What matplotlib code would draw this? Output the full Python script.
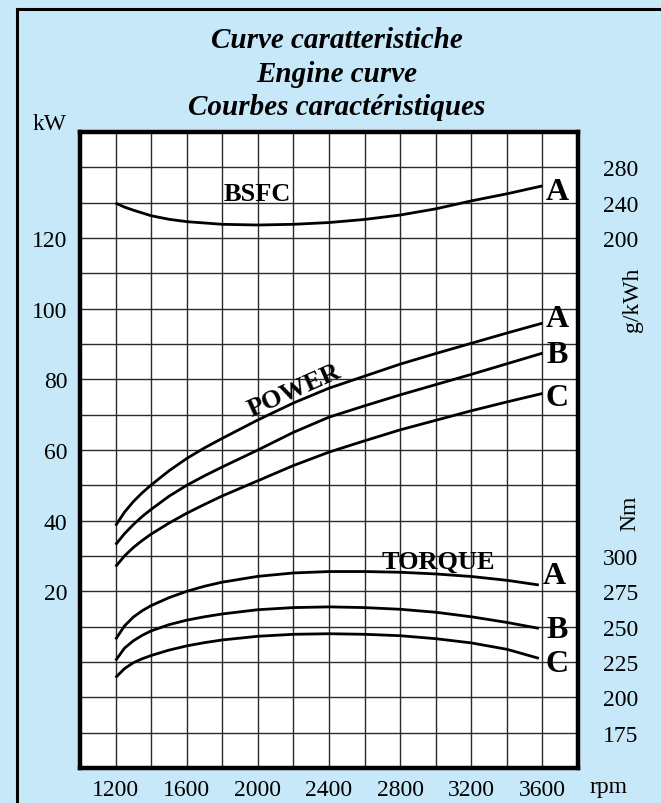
import matplotlib
matplotlib.use('Agg')
import matplotlib.pyplot as plt
from matplotlib.lines import Line2D
import numpy as np

# rpm points
rpm_power = [1200, 1250, 1300, 1350, 1400, 1500, 1600, 1700, 1800, 2000, 2200, 2400,
             2600, 2800, 3000, 3200, 3400, 3600]
power_a = [38.6, 42.4, 45.4, 47.9, 50.1, 54.1, 57.6, 60.6, 63.3, 68.5, 73.3, 77.5,
           80.9, 84.3, 87.3, 90.2, 93.1, 95.9]
power_b = [33.2, 36.3, 38.9, 41.2, 43.2, 46.9, 50.0, 52.7, 55.2, 60.0, 65.0, 69.3,
           72.5, 75.6, 78.5, 81.4, 84.4, 87.4]
power_c = [27.0, 30.0, 32.4, 34.4, 36.2, 39.3, 42.1, 44.6, 47.0, 51.3, 55.6, 59.4,
           62.6, 65.7, 68.4, 71.1, 73.6, 76.0]

rpm_torque = [1200, 1250, 1300, 1350, 1400, 1500, 1600, 1700, 1800, 2000, 2200, 2400,
              2600, 2800, 3000, 3200, 3400, 3580]
torque_a = [241.0, 250.5, 256.8, 261.3, 264.9, 270.5, 275.0, 278.6, 281.5, 285.6, 288.0, 289.0,
            289.0, 288.5, 287.3, 285.5, 282.8, 279.5]
torque_b = [226.0, 234.8, 240.0, 243.9, 247.0, 251.4, 254.6, 257.0, 259.0, 262.0, 263.5, 264.0,
            263.5, 262.3, 260.2, 257.0, 253.0, 248.8]
torque_c = [214.0, 220.3, 224.5, 227.3, 229.6, 233.4, 236.4, 238.7, 240.6, 243.2, 244.6, 245.0,
            244.6, 243.6, 241.5, 238.5, 234.0, 227.6]

rpm_bsfc = [1200, 1250, 1300, 1400, 1500, 1600, 1800, 2000, 2200, 2400, 2600, 2800,
            3000, 3200, 3400, 3600]
bsfc_a = [239.6, 235.0, 231.5, 225.2, 221.2, 218.5, 215.5, 214.7, 215.5, 217.5, 221.0, 226.0,
          233.0, 242.0, 250.0, 259.0]

rpm_ticks = [1200, 1600, 2000, 2400, 2800, 3200, 3600]
kw_ticks = [20, 40, 60, 80, 100, 120]
gkwh_ticks = [200, 240, 280]
nm_ticks = [175, 200, 225, 250, 275, 300]

BG = '#c6e8f8'
W, H = 661, 804

plt.rcParams['font.family'] = ['Liberation Serif', 'DejaVu Serif']

fig = plt.figure(figsize=(W / 100, H / 100), dpi=100)
fig.patch.set_facecolor(BG)

# outer frame: only left and top edges are visible in the picture
fig.add_artist(Line2D([17 / W, 17 / W], [0, 1 - 10 / H], color='black', lw=2.2,
                      transform=fig.transFigure))
fig.add_artist(Line2D([17 / W, 1], [1 - 10 / H, 1 - 10 / H], color='black', lw=2.2,
                      transform=fig.transFigure))

left, right, top, bottom = 80, 578, 133, 769
ax = fig.add_axes([left / W, 1 - bottom / H, (right - left) / W, (bottom - top) / H])
ax.set_facecolor('white')
ax.set_xlim(1000, 3800)
ax.set_ylim(-30, 150)

ax.set_xticks(rpm_ticks)
ax.set_xticks(np.arange(1000, 3801, 200), minor=True)
ax.set_yticks(kw_ticks)
ax.set_yticks(np.arange(-30, 151, 10), minor=True)
ax.grid(which='both', color='#2a2a2a', lw=1.0)
ax.set_axisbelow(True)
ax.tick_params(which='both', length=0, labelsize=17)
ax.tick_params(axis='y', pad=9)
ax.tick_params(axis='x', pad=8)
for sp in ax.spines.values():
    sp.set_linewidth(3.2)
    sp.set_zorder(5)

line_kw = dict(color='black', lw=2.0, solid_capstyle='butt', solid_joinstyle='round')

ax.plot(rpm_power, power_a, **line_kw)
ax.plot(rpm_power, power_b, **line_kw)
ax.plot(rpm_power, power_c, **line_kw)

ax_g = ax.twinx()
ax_g.set_ylim(-400, 320)
ax_g.set_yticks(gkwh_ticks)
ax_g.plot(rpm_bsfc, bsfc_a, **line_kw)

ax_t = ax.twinx()
ax_t.set_ylim(150, 600)
ax_t.set_yticks(nm_ticks)
ax_t.plot(rpm_torque, torque_a, **line_kw)
ax_t.plot(rpm_torque, torque_b, **line_kw)
ax_t.plot(rpm_torque, torque_c, **line_kw)

for a in (ax_g, ax_t):
    for sp in a.spines.values():
        sp.set_visible(False)
    a.tick_params(length=0, labelsize=17, pad=18)

# curve names
bold = dict(fontweight='bold', color='black')
ax.text(1995, 132.5, 'BSFC', fontsize=19, ha='center', va='center', **bold)
ax.text(2203, 77.0, 'POWER', fontsize=19, ha='center', va='center', rotation=24,
        rotation_mode='anchor', **bold)
ax.text(3013, 28.6, 'TORQUE', fontsize=19, ha='center', va='center', **bold)

end_labels = [(3682, 133.3, 'A'), (3682, 97.1, 'A'), (3682, 86.9, 'B'), (3682, 75.0, 'C'),
              (3665, 24.6, 'A'), (3682, 9.3, 'B'), (3682, -0.3, 'C')]
for x, y, s in end_labels:
    ax.text(x, y, s, fontsize=23, ha='center', va='center', **bold)

# titles and units
title_lines = ['Curve caratteristiche', 'Engine curve', 'Courbes caractéristiques']
for i, t in enumerate(title_lines):
    fig.text(337 / W, 1 - (48 + 33.5 * i) / H, t, fontsize=21, fontweight='bold',
             fontstyle='italic', ha='center', va='baseline')

fig.text(50 / W, 1 - 125 / H, 'kW', fontsize=17, ha='center', va='center')
fig.text(609 / W, 1 - 788 / H, 'rpm', fontsize=17, ha='center', va='center')
fig.text(633 / W, 1 - 300 / H, 'g/kWh', fontsize=17, ha='center', va='center', rotation=90)
fig.text(630 / W, 1 - 513 / H, 'Nm', fontsize=17, ha='center', va='center', rotation=90)

fig.savefig('out.png', dpi=100, facecolor=BG)
